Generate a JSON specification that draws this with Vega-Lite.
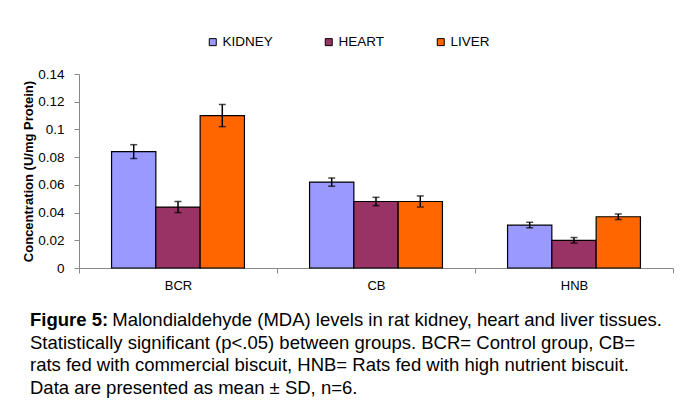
{
  "$schema": "https://vega.github.io/schema/vega-lite/v6.json",
  "width": 594,
  "height": 194,
  "autosize": {"type": "none"},
  "padding": {"left": 79, "top": 74, "right": 8, "bottom": 141},
  "background": "white",
  "data": {"values": [
    {"group": "BCR", "tissue": "KIDNEY", "value": 0.084, "lo": 0.079, "hi": 0.089},
    {"group": "BCR", "tissue": "HEART", "value": 0.044, "lo": 0.040, "hi": 0.048},
    {"group": "BCR", "tissue": "LIVER", "value": 0.110, "lo": 0.102, "hi": 0.118},
    {"group": "CB", "tissue": "KIDNEY", "value": 0.062, "lo": 0.059, "hi": 0.065},
    {"group": "CB", "tissue": "HEART", "value": 0.048, "lo": 0.045, "hi": 0.051},
    {"group": "CB", "tissue": "LIVER", "value": 0.048, "lo": 0.044, "hi": 0.052},
    {"group": "HNB", "tissue": "KIDNEY", "value": 0.031, "lo": 0.029, "hi": 0.033},
    {"group": "HNB", "tissue": "HEART", "value": 0.020, "lo": 0.018, "hi": 0.022},
    {"group": "HNB", "tissue": "LIVER", "value": 0.037, "lo": 0.035, "hi": 0.039}
  ]},
  "title": {
    "text": "Figure 5:",
    "subtitle": [
      "\u200b\u00a0\u00a0\u00a0\u00a0\u00a0\u00a0\u00a0\u00a0\u00a0\u00a0\u00a0\u00a0\u00a0\u00a0\u00a0\u00a0Malondialdehyde (MDA) levels in rat kidney, heart and liver tissues.",
      "Statistically significant (p<.05) between groups. BCR= Control group, CB=",
      "rats fed with commercial biscuit, HNB= Rats fed with high nutrient biscuit.",
      "Data are presented as mean ± SD, n=6."
    ],
    "orient": "bottom",
    "anchor": "start",
    "frame": "group",
    "dx": -49,
    "offset": 19,
    "font": "Liberation Sans",
    "fontSize": 18.5,
    "fontWeight": "bold",
    "color": "#000000",
    "subtitleFont": "Liberation Sans",
    "subtitleFontSize": 18.5,
    "subtitleFontWeight": "normal",
    "subtitleColor": "#000000",
    "subtitleLineHeight": 22.7,
    "subtitlePadding": -18.5
  },
  "encoding": {
    "x": {
      "field": "group", "type": "nominal", "sort": ["BCR", "CB", "HNB"],
      "scale": {"paddingInner": 0, "paddingOuter": 0},
      "axis": {
        "title": null, "labelAngle": 0, "tickBand": "extent",
        "domainColor": "#888888", "tickColor": "#888888", "tickSize": 5,
        "labelFont": "Liberation Sans", "labelFontSize": 13, "labelColor": "#000000",
        "labelPadding": 6
      }
    },
    "xOffset": {
      "field": "tissue", "type": "nominal", "sort": ["KIDNEY", "HEART", "LIVER"],
      "scale": {"paddingInner": 0, "paddingOuter": 0.735}
    }
  },
  "layer": [
    {
      "mark": {"type": "bar", "stroke": "#000000", "strokeWidth": 1.2},
      "encoding": {
        "y": {
          "field": "value", "type": "quantitative",
          "scale": {"domain": [0, 0.14], "nice": false},
          "axis": {
            "title": "Concentration (U/mg Protein)",
            "values": [0, 0.02, 0.04, 0.06, 0.08, 0.1, 0.12, 0.14],
            "format": ".2~f", "labelOverlap": false, "grid": false
          }
        },
        "color": {
          "field": "tissue", "type": "nominal",
          "sort": ["KIDNEY", "HEART", "LIVER"],
          "scale": {"domain": ["KIDNEY", "HEART", "LIVER"], "range": ["#9999FF", "#993366", "#FF6600"]},
          "legend": {
            "title": null, "orient": "none", "direction": "horizontal",
            "legendX": 127, "legendY": -39,
            "symbolType": "square", "symbolSize": 49,
            "symbolStrokeColor": "#000000", "symbolStrokeWidth": 1,
            "labelFont": "Liberation Sans", "labelFontSize": 13.5, "labelColor": "#000000",
            "labelOffset": 3, "columnPadding": 49, "padding": 0
          }
        }
      }
    },
    {
      "mark": {"type": "rule", "color": "#000000", "strokeWidth": 1.5},
      "encoding": {
        "y": {
          "field": "lo", "type": "quantitative",
          "axis": {
            "title": "Concentration (U/mg Protein)",
            "values": [0, 0.02, 0.04, 0.06, 0.08, 0.1, 0.12, 0.14],
            "format": ".2~f", "labelOverlap": false, "grid": false
          }
        },
        "y2": {"field": "hi"}
      }
    },
    {
      "mark": {"type": "tick", "color": "#000000", "thickness": 1.5, "size": 7},
      "encoding": {
        "y": {
          "field": "lo", "type": "quantitative",
          "axis": {
            "title": "Concentration (U/mg Protein)",
            "values": [0, 0.02, 0.04, 0.06, 0.08, 0.1, 0.12, 0.14],
            "format": ".2~f", "labelOverlap": false, "grid": false
          }
        }
      }
    },
    {
      "mark": {"type": "tick", "color": "#000000", "thickness": 1.5, "size": 7},
      "encoding": {
        "y": {
          "field": "hi", "type": "quantitative",
          "axis": {
            "title": "Concentration (U/mg Protein)",
            "values": [0, 0.02, 0.04, 0.06, 0.08, 0.1, 0.12, 0.14],
            "format": ".2~f", "labelOverlap": false, "grid": false
          }
        }
      }
    }
  ],
  "config": {
    "view": {"stroke": null},
    "axisY": {
      "domainColor": "#888888", "tickColor": "#888888", "tickSize": 5,
      "labelFont": "Liberation Sans", "labelFontSize": 13.5, "labelColor": "#000000",
      "labelPadding": 10,
      "titleFont": "Liberation Sans", "titleFontSize": 13, "titleFontWeight": "bold",
      "titleColor": "#000000", "titlePadding": 2
    }
  }
}
